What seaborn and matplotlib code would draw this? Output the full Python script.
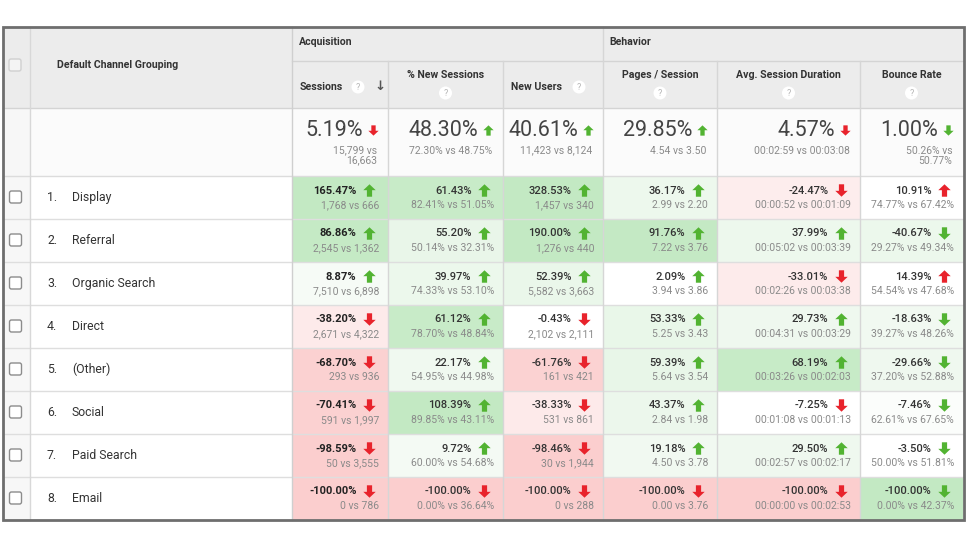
import numpy as np
import pandas as pd
import matplotlib
matplotlib.use("Agg")
import matplotlib.pyplot as plt
import seaborn as sns
from matplotlib.colors import LinearSegmentedColormap
from matplotlib.patches import Rectangle, FancyBboxPatch, Circle
from matplotlib.path import Path

plt.rcParams['font.family'] = ['Roboto', 'DejaVu Sans']

# ---------------- data ----------------
channels = ["Display", "Referral", "Organic Search", "Direct", "(Other)", "Social", "Paid Search", "Email"]
metrics = ["Sessions", "% New Sessions", "New Users", "Pages / Session", "Avg. Session Duration", "Bounce Rate"]
lower_is_better = [False, False, False, False, False, True]

sessions = [165.47, 86.86, 8.87, -38.20, -68.70, -70.41, -98.59, -100.00]
new_sessions = [61.43, 55.20, 39.97, 61.12, 22.17, 108.39, 9.72, -100.00]
new_users = [328.53, 190.00, 52.39, -0.43, -61.76, -38.33, -98.46, -100.00]
pages_per_session = [36.17, 91.76, 2.09, 53.33, 59.39, 43.37, 19.18, -100.00]
avg_duration = [-24.47, 37.99, -33.01, 29.73, 68.19, -7.25, 29.50, -100.00]
bounce_rate = [10.91, -40.67, 14.39, -18.63, -29.66, -7.46, -3.50, -100.00]

sessions_cmp = ["1,768 vs 666", "2,545 vs 1,362", "7,510 vs 6,898", "2,671 vs 4,322",
                "293 vs 936", "591 vs 1,997", "50 vs 3,555", "0 vs 786"]
new_sessions_cmp = ["82.41% vs 51.05%", "50.14% vs 32.31%", "74.33% vs 53.10%", "78.70% vs 48.84%",
                    "54.95% vs 44.98%", "89.85% vs 43.11%", "60.00% vs 54.68%", "0.00% vs 36.64%"]
new_users_cmp = ["1,457 vs 340", "1,276 vs 440", "5,582 vs 3,663", "2,102 vs 2,111",
                 "161 vs 421", "531 vs 861", "30 vs 1,944", "0 vs 288"]
pages_cmp = ["2.99 vs 2.20", "7.22 vs 3.76", "3.94 vs 3.86", "5.25 vs 3.43",
             "5.64 vs 3.54", "2.84 vs 1.98", "4.50 vs 3.78", "0.00 vs 3.76"]
duration_cmp = ["00:00:52 vs 00:01:09", "00:05:02 vs 00:03:39", "00:02:26 vs 00:03:38", "00:04:31 vs 00:03:29",
                "00:03:26 vs 00:02:03", "00:01:08 vs 00:01:13", "00:02:57 vs 00:02:17", "00:00:00 vs 00:02:53"]
bounce_cmp = ["74.77% vs 67.42%", "29.27% vs 49.34%", "54.54% vs 47.68%", "39.27% vs 48.26%",
              "37.20% vs 52.88%", "62.61% vs 67.65%", "50.00% vs 51.81%", "0.00% vs 42.37%"]

totals_change = [-5.19, 48.30, 40.61, 29.85, -4.57, -1.00]
totals_cmp = ["15,799 vs\n16,663", "72.30% vs 48.75%", "11,423 vs 8,124", "4.54 vs 3.50",
              "00:02:59 vs 00:03:08", "50.26% vs\n50.77%"]

changes = [sessions, new_sessions, new_users, pages_per_session, avg_duration, bounce_rate]
compares = [sessions_cmp, new_sessions_cmp, new_users_cmp, pages_cmp, duration_cmp, bounce_cmp]

df = pd.DataFrame({m: c for m, c in zip(metrics, changes)}, index=channels)
score = df.copy()
for m, inv in zip(metrics, lower_is_better):
    if inv:
        score[m] = -score[m]
score = score.clip(-100, 100)

# ---------------- layout ----------------
W, H = 967, 550
fig = plt.figure(figsize=(W / 100, H / 100), dpi=100)
fig.patch.set_facecolor("white")

L, R, T, B = 3, 964, 27, 520
x_chk, x_name = 30, 292
col_edges = [292, 388, 503, 603, 717, 860, 963]
y_hdr1, y_hdr2, y_tot = 61, 108, 176
row_h = 43

GREEN = "#52b332"
RED = "#e8232c"

vals = [-100, -60, -57, -22, -16, 6, 10, 60, 61, 100]
cols = ["#fbcece", "#fbd2d2", "#fde6e6", "#fdeeee", "#ffffff", "#ffffff", "#f3faf3", "#e8f6e8", "#c8ebc8", "#c3e9c3"]
cmap = LinearSegmentedColormap.from_list("ga", [((v + 100) / 200, c) for v, c in zip(vals, cols)])

# background axes
bg = fig.add_axes([0, 0, 1, 1])
bg.set_xlim(0, W)
bg.set_ylim(H, 0)
bg.set_axis_off()
bg.add_patch(Rectangle((L, T), R - L, y_hdr2 - T, facecolor="#ececec", edgecolor="none"))
bg.add_patch(Rectangle((L, y_hdr2), R - L, y_tot - y_hdr2, facecolor="#fbfbfb", edgecolor="none"))
bg.add_patch(Rectangle((L, y_hdr2), x_chk - L, B - y_hdr2, facecolor="#f7f7f7", edgecolor="none"))

# heatmap cells, one seaborn heatmap per metric column
for j, m in enumerate(metrics):
    x0, x1 = col_edges[j], col_edges[j + 1]
    hax = fig.add_axes([x0 / W, 1 - B / H, (x1 - x0) / W, (B - y_tot) / H])
    sns.heatmap(score[[m]], ax=hax, cmap=cmap, vmin=-100, vmax=100, cbar=False,
                xticklabels=False, yticklabels=False, linewidths=0)
    hax.set_xlabel("")
    hax.set_ylabel("")
    hax.set_axis_off()

# overlay axes
ax = fig.add_axes([0, 0, 1, 1])
ax.set_xlim(0, W)
ax.set_ylim(H, 0)
ax.set_axis_off()
ax.patch.set_alpha(0)

up_path = Path([(-1, 0.05), (0, 1), (1, 0.05), (0.42, 0.05), (0.42, -1), (-0.42, -1), (-0.42, 0.05), (-1, 0.05)],
               closed=True)
down_path = Path([(-1, -0.05), (0, -1), (1, -0.05), (0.42, -0.05), (0.42, 1), (-0.42, 1), (-0.42, -0.05), (-1, -0.05)],
                 closed=True)


def arrow(x, y, up, good, s):
    ax.scatter([x], [y], marker=up_path if up else down_path, s=s,
               color=GREEN if good else RED, linewidths=0, zorder=5)


# grid lines
line_c = "#dedede"
for i in range(1, 8):
    y = y_tot + i * row_h
    ax.plot([L, R], [y, y], color=line_c, lw=1)
ax.plot([L, R], [y_hdr2, y_hdr2], color="#d4d4d4", lw=1)
ax.plot([L, R], [y_tot, y_tot], color="#dcdcdc", lw=1)
ax.plot([x_name, R], [y_hdr1, y_hdr1], color="#d4d4d4", lw=1)
ax.plot([x_chk, x_chk], [T, B], color="#d8d8d8", lw=1)
ax.plot([x_name, x_name], [T, B], color="#cfcfcf", lw=1)
for j, x in enumerate(col_edges[1:-1]):
    ytop = T if x == 603 else y_hdr1
    ax.plot([x, x], [ytop, B], color="#d6d6d6", lw=1)

# outer border
ax.add_patch(Rectangle((L, T), R - L, B - T, facecolor="none", edgecolor="#6e6e6e", lw=2, zorder=6))

# header texts
hdr_kw = dict(fontsize=7.6, fontweight="bold", color="#333333", va="center")
ax.text(57, 65, "Default Channel Grouping", ha="left", **hdr_kw)
ax.text(299, 42, "Acquisition", ha="left", **hdr_kw)
ax.text(609, 42, "Behavior", ha="left", **hdr_kw)


def qmark(x, y):
    ax.add_patch(Circle((x, y), 6.5, facecolor="white", edgecolor="none", zorder=4))
    ax.text(x, y + 0.5, "?", fontsize=6.5, color="#b5b5b5", ha="center", va="center", zorder=5)


# header checkbox
ax.add_patch(FancyBboxPatch((9, 59), 12, 12, boxstyle="round,pad=0,rounding_size=2",
                            facecolor="#f4f4f4", edgecolor="#d0d0d0", lw=1, zorder=4))

centers = [(col_edges[j] + col_edges[j + 1]) / 2 for j in range(6)]
for j, m in enumerate(metrics):
    x0 = col_edges[j]
    if m in ("Sessions", "New Users"):
        ax.text(x0 + 8, 87, m, ha="left", **hdr_kw)
        qx = x0 + 66 if m == "Sessions" else x0 + 76
        qmark(qx, 87)
        if m == "Sessions":
            ax.text(x0 + 88, 86, "↓", fontsize=9.5, color="#555555", ha="center", va="center",
                    family=["DejaVu Sans"], fontweight="bold")
    else:
        ax.text(centers[j], 75, m, ha="center", **hdr_kw)
        qmark(centers[j], 93)

# totals row
for j in range(6):
    x1 = col_edges[j + 1]
    ch = totals_change[j]
    ax_x = x1 - 15.5
    ax.text(ax_x - 9.5, 130, f"{abs(ch):.2f}%", fontsize=15.5, color="#444444",
            ha="right", va="center", fontweight="normal")
    arrow(ax_x, 130, ch > 0, (ch > 0) != lower_is_better[j], 55)
    ax.text(x1 - 10.5, 145.5, totals_cmp[j], fontsize=7.5, color="#8a8a8a",
            ha="right", va="top", linespacing=1.0)

# data rows
for i, ch_name in enumerate(channels):
    yc = y_tot + i * row_h + row_h / 2
    ax.add_patch(FancyBboxPatch((9.5, yc - 6.5), 12, 12, boxstyle="round,pad=0,rounding_size=2",
                                facecolor="white", edgecolor="#8c8c8c", lw=1, zorder=4))
    ax.text(47, yc, f"{i + 1}.", fontsize=8.8, color="#333333", ha="left", va="center")
    ax.text(72, yc, ch_name, fontsize=8.8, color="#333333", ha="left", va="center")
    for j in range(6):
        x1 = col_edges[j + 1]
        v = changes[j][i]
        arrow_x = x1 - 19
        ym = y_tot + i * row_h + 14.5
        ax.text(arrow_x - 12.5, ym, f"{v:.2f}%", fontsize=8, color="#222222" if j == 0 else "#333333",
                fontweight="bold" if j == 0 else "medium", ha="right", va="center")
        arrow(arrow_x, ym - 1, v > 0, (v > 0) != lower_is_better[j], 80)
        ax.text(x1 - 9, y_tot + i * row_h + 29, compares[j][i], fontsize=7.5, color="#8a8a8a",
                ha="right", va="center")

fig.savefig("out.png", dpi=100, facecolor="white")
